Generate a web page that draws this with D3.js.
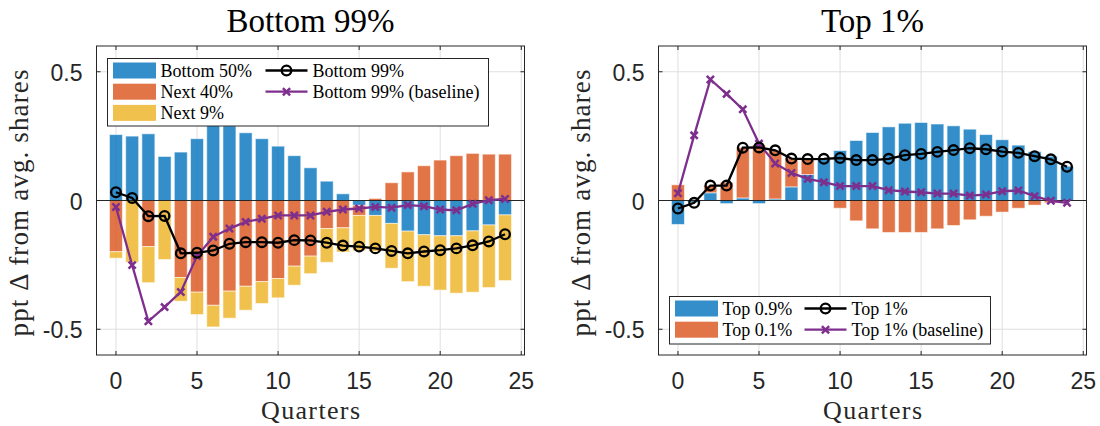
<!DOCTYPE html>
<html>
<head>
<meta charset="utf-8">
<script src="https://cdn.jsdelivr.net/npm/d3@7"></script>
<style>
  body { margin: 0; background: #fff; }
  svg { display: block; }
</style>
</head>
<body>
<svg id="chart" width="1100" height="426"></svg>
<script>
// quarters after the shock
var quarters = [0, 1, 2, 3, 4, 5, 6, 7, 8, 9, 10, 11, 12, 13, 14, 15, 16, 17, 18, 19, 20, 21, 22, 23, 24];
var xTicks = [0, 5, 10, 15, 20, 25];
var yTicks = [-0.5, 0, 0.5];
var yTickLabels = ["-0.5", "0", "0.5"];

// left panel: bottom 99%
var bottom50 = [0.256, 0.250, 0.259, 0.171, 0.188, 0.240, 0.300, 0.290, 0.263, 0.240, 0.211, 0.174, 0.127, 0.075, 0.026, -0.019, -0.058, -0.089, -0.119, -0.133, -0.137, -0.137, -0.118, -0.095, -0.056];
var next40 = [-0.199, 0.000, -0.179, 0.000, -0.299, -0.356, -0.407, -0.352, -0.333, -0.315, -0.303, -0.255, -0.216, -0.109, -0.106, -0.039, 0.008, 0.069, 0.111, 0.135, 0.157, 0.174, 0.183, 0.180, 0.180];
var next9 = [-0.025, -0.240, -0.140, -0.229, -0.092, -0.087, -0.084, -0.105, -0.093, -0.085, -0.075, -0.074, -0.068, -0.131, -0.094, -0.137, -0.140, -0.174, -0.196, -0.200, -0.211, -0.223, -0.238, -0.243, -0.255];
var bottom99 = [0.032, 0.010, -0.061, -0.060, -0.205, -0.203, -0.194, -0.168, -0.162, -0.162, -0.164, -0.154, -0.155, -0.164, -0.175, -0.179, -0.186, -0.196, -0.205, -0.198, -0.193, -0.186, -0.174, -0.159, -0.131];
var bottom99Base = [-0.025, -0.251, -0.469, -0.414, -0.355, -0.216, -0.141, -0.109, -0.083, -0.071, -0.058, -0.058, -0.058, -0.044, -0.035, -0.031, -0.025, -0.028, -0.018, -0.022, -0.035, -0.038, -0.013, 0.001, 0.006];

// right panel: top 1%
var top09 = [-0.093, -0.008, 0.030, -0.012, 0.010, -0.012, 0.006, 0.053, 0.101, 0.160, 0.194, 0.233, 0.264, 0.286, 0.300, 0.303, 0.297, 0.290, 0.277, 0.256, 0.236, 0.215, 0.190, 0.172, 0.133];
var top01 = [0.061, 0.000, 0.028, 0.070, 0.195, 0.215, 0.188, 0.110, 0.060, 0.003, -0.030, -0.079, -0.110, -0.124, -0.124, -0.124, -0.110, -0.097, -0.075, -0.061, -0.045, -0.030, -0.018, -0.009, 0.000];
var top1 = [-0.031, -0.009, 0.058, 0.058, 0.205, 0.206, 0.195, 0.163, 0.161, 0.162, 0.165, 0.157, 0.157, 0.162, 0.176, 0.181, 0.189, 0.196, 0.203, 0.199, 0.190, 0.185, 0.172, 0.160, 0.131];
var top1Base = [0.028, 0.253, 0.470, 0.414, 0.354, 0.221, 0.144, 0.107, 0.084, 0.071, 0.056, 0.056, 0.056, 0.040, 0.035, 0.032, 0.027, 0.027, 0.019, 0.023, 0.036, 0.039, 0.017, -0.001, -0.009];

var blue = "#0072BD", orange = "#D95319", yellow = "#EDB120", purple = "#7E2F8E";
var axisColor = "#262626";
var serif = "'Liberation Serif', 'Times New Roman', serif";
var sans = "'Liberation Sans', Arial, sans-serif";
var xMark = "M-3.6,-3.6L3.6,3.6M-3.6,3.6L3.6,-3.6";

var svg = d3.select("#chart");

function drawPanel(p) {
  var x = d3.scaleLinear().domain([-1.2, 25.2]).range([p.left, p.left + 428]);
  var y = d3.scaleLinear().domain([-0.6, 0.6]).range([355, 46]);
  var g = svg.append("g");
  var barW = x(0.8) - x(0);

  // grid
  g.selectAll(".gx").data(xTicks).enter().append("line")
    .attr("x1", function(d) { return x(d); }).attr("x2", function(d) { return x(d); })
    .attr("y1", y(0.6)).attr("y2", y(-0.6))
    .attr("stroke", "#dfdfdf").attr("stroke-width", 1);
  g.selectAll(".gy").data(yTicks).enter().append("line")
    .attr("x1", x(-1.2)).attr("x2", x(25.2))
    .attr("y1", function(d) { return y(d); }).attr("y2", function(d) { return y(d); })
    .attr("stroke", "#dfdfdf").attr("stroke-width", 1);

  // stacked bars, positives and negatives stacked separately
  var pos = quarters.map(function() { return 0; });
  var neg = quarters.map(function() { return 0; });
  p.bars.forEach(function(s) {
    var segs = s.values.map(function(v, i) {
      var y0;
      if (v >= 0) { y0 = pos[i]; pos[i] += v; } else { y0 = neg[i]; neg[i] += v; }
      return { q: quarters[i], y0: y0, y1: y0 + v };
    });
    g.selectAll(null).data(segs).enter().append("rect")
      .attr("x", function(d) { return x(d.q) - barW / 2; })
      .attr("width", barW)
      .attr("y", function(d) { return y(Math.max(d.y0, d.y1)); })
      .attr("height", function(d) { return Math.abs(y(d.y0) - y(d.y1)); })
      .attr("fill", s.color).attr("fill-opacity", 0.8)
      .attr("stroke", "#fff").attr("stroke-opacity", 0.55).attr("stroke-width", 1);
  });

  // zero line
  g.append("line")
    .attr("x1", x(-1.2)).attr("x2", x(25.2))
    .attr("y1", y(0)).attr("y2", y(0))
    .attr("stroke", axisColor).attr("stroke-width", 1);

  var line = d3.line()
    .x(function(d, i) { return x(quarters[i]); })
    .y(function(d) { return y(d); });

  // baseline line with x markers
  g.append("path").datum(p.base).attr("d", line)
    .attr("fill", "none").attr("stroke", purple).attr("stroke-width", 2.3);
  g.selectAll(null).data(p.base).enter().append("path")
    .attr("d", xMark)
    .attr("transform", function(d, i) { return "translate(" + x(quarters[i]) + "," + y(d) + ")"; })
    .attr("stroke", purple).attr("stroke-width", 2.5).attr("fill", "none");

  // total line with circles
  g.append("path").datum(p.total).attr("d", line)
    .attr("fill", "none").attr("stroke", "#000").attr("stroke-width", 2.3);
  g.selectAll(null).data(p.total).enter().append("circle")
    .attr("cx", function(d, i) { return x(quarters[i]); })
    .attr("cy", function(d) { return y(d); })
    .attr("r", 4.8)
    .attr("fill", "none").attr("stroke", "#000").attr("stroke-width", 2.3);

  // box and inward ticks
  g.append("rect")
    .attr("x", x(-1.2)).attr("y", y(0.6))
    .attr("width", x(25.2) - x(-1.2)).attr("height", y(-0.6) - y(0.6))
    .attr("fill", "none").attr("stroke", axisColor).attr("stroke-width", 1);
  xTicks.forEach(function(t) {
    g.append("line").attr("x1", x(t)).attr("x2", x(t)).attr("y1", y(-0.6)).attr("y2", y(-0.6) - 4).attr("stroke", axisColor);
    g.append("line").attr("x1", x(t)).attr("x2", x(t)).attr("y1", y(0.6)).attr("y2", y(0.6) + 4).attr("stroke", axisColor);
  });
  yTicks.forEach(function(t) {
    g.append("line").attr("x1", x(-1.2)).attr("x2", x(-1.2) + 4).attr("y1", y(t)).attr("y2", y(t)).attr("stroke", axisColor);
    g.append("line").attr("x1", x(25.2)).attr("x2", x(25.2) - 4).attr("y1", y(t)).attr("y2", y(t)).attr("stroke", axisColor);
  });

  // tick labels
  g.selectAll(null).data(xTicks).enter().append("text")
    .attr("x", function(d) { return x(d); }).attr("y", 389)
    .attr("text-anchor", "middle")
    .style("font-family", sans).style("font-size", "23px").attr("fill", axisColor)
    .text(function(d) { return d; });
  g.selectAll(null).data(yTicks).enter().append("text")
    .attr("x", x(-1.2) - 14).attr("y", function(d) { return y(d) + 9; })
    .attr("text-anchor", "end")
    .style("font-family", sans).style("font-size", "23px").attr("fill", axisColor)
    .text(function(d, i) { return yTickLabels[i]; });

  // title and axis labels
  var cx = (x(-1.2) + x(25.2)) / 2;
  g.append("text").attr("x", cx).attr("y", 32).attr("text-anchor", "middle")
    .style("font-family", serif).style("font-size", "33px").attr("fill", "#000")
    .text(p.title);
  g.append("text").attr("x", cx).attr("y", 419).attr("text-anchor", "middle")
    .attr("textLength", 99).attr("lengthAdjust", "spacing")
    .style("font-family", serif).style("font-size", "26px").attr("fill", axisColor)
    .text("Quarters");
  g.append("text")
    .attr("transform", "translate(" + (p.left - 68.5) + ",203) rotate(-90)")
    .attr("text-anchor", "middle")
    .attr("textLength", 267).attr("lengthAdjust", "spacing")
    .style("font-family", serif).style("font-size", "27px").attr("fill", axisColor)
    .text("ppt \u0394 from avg. shares");

  // legend
  var L = p.legend;
  var lg = g.append("g");
  lg.append("rect").attr("x", L.x).attr("y", L.y).attr("width", L.w).attr("height", L.h)
    .attr("fill", "#fff").attr("stroke", axisColor).attr("stroke-width", 1);
  p.bars.forEach(function(s, i) {
    var cy = L.y + 12 + i * 21.2;
    lg.append("rect").attr("x", L.x + 5.5).attr("y", cy - 8).attr("width", 43).attr("height", 16)
      .attr("fill", s.color).attr("fill-opacity", 0.8);
    lg.append("text").attr("x", L.x + 53).attr("y", cy + 6)
      .style("font-family", serif).style("font-size", "18px").attr("fill", "#000")
      .text(s.name);
  });
  var lines = [{ name: p.totalName, kind: "o" }, { name: p.baseName, kind: "x" }];
  lines.forEach(function(s, i) {
    var cy = L.y + 12 + i * 21.2;
    var lx = L.x + L.col;
    lg.append("line").attr("x1", lx).attr("x2", lx + 42).attr("y1", cy).attr("y2", cy)
      .attr("stroke", s.kind === "o" ? "#000" : purple).attr("stroke-width", 2.3);
    if (s.kind === "o") {
      lg.append("circle").attr("cx", lx + 21).attr("cy", cy).attr("r", 4.8)
        .attr("fill", "none").attr("stroke", "#000").attr("stroke-width", 2.3);
    } else {
      lg.append("path").attr("d", xMark)
        .attr("transform", "translate(" + (lx + 21) + "," + cy + ")")
        .attr("stroke", purple).attr("stroke-width", 2.5);
    }
    lg.append("text").attr("x", lx + 47).attr("y", cy + 6)
      .style("font-family", serif).style("font-size", "18px").attr("fill", "#000")
      .text(s.name);
  });
}

drawPanel({
  left: 96.5,
  title: "Bottom 99%",
  bars: [
    { name: "Bottom 50%", values: bottom50, color: blue },
    { name: "Next 40%", values: next40, color: orange },
    { name: "Next 9%", values: next9, color: yellow }
  ],
  total: bottom99, totalName: "Bottom 99%",
  base: bottom99Base, baseName: "Bottom 99% (baseline)",
  legend: { x: 107.5, y: 58.5, w: 381, h: 67.5, col: 158 }
});

drawPanel({
  left: 658.5,
  title: "Top 1%",
  bars: [
    { name: "Top 0.9%", values: top09, color: blue },
    { name: "Top 0.1%", values: top01, color: orange }
  ],
  total: top1, totalName: "Top 1%",
  base: top1Base, baseName: "Top 1% (baseline)",
  legend: { x: 669.5, y: 296.5, w: 321, h: 47.5, col: 135 }
});
</script>
</body>
</html>
